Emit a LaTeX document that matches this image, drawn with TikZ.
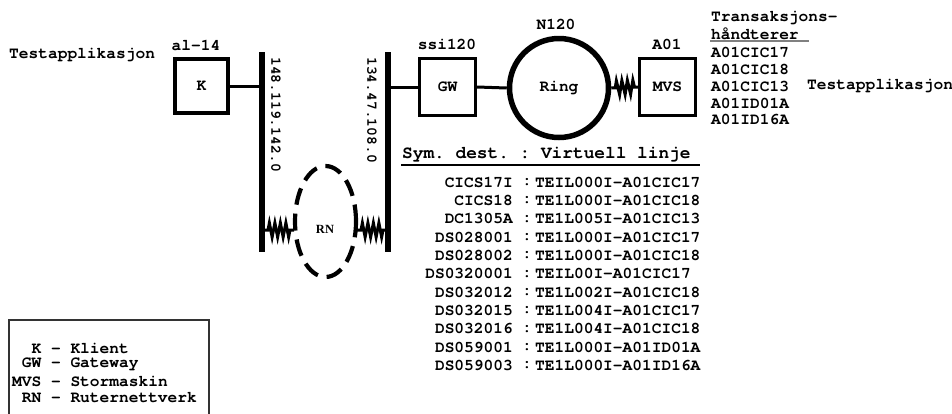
\documentclass[tikz,border=0pt]{standalone}
\usepackage{fontspec}
\setmonofont{texgyrecursor}[Extension=.otf, UprightFont=*-regular, BoldFont=*-bold]
\newfontfamily\rnserif{Liberation Serif}
\usetikzlibrary{decorations.pathmorphing,shapes.geometric}
\begin{document}
\begin{tikzpicture}[x=1pt,y=-1pt,
  txt/.style={font=\ttfamily\bfseries\fontsize{16.2}{18}\selectfont, inner sep=0pt},
  hdr/.style={font=\ttfamily\bfseries\fontsize{17.8}{19}\selectfont, inner sep=0pt},
  rot/.style={font=\ttfamily\bfseries\fontsize{14.7}{16}\selectfont, inner sep=0pt, rotate=-90, anchor=west},
  devbox/.style={draw, line width=3pt, minimum width=56pt, minimum height=57pt, inner sep=0pt, font=\ttfamily\bfseries\fontsize{16.2}{18}\selectfont},
  bus/.style={line width=6pt},
  link/.style={line width=3pt},
  spring/.style={line width=3pt, decorate, decoration={zigzag, segment length=5.5pt, amplitude=7pt, pre length=4pt, post length=3pt}}
]
\useasboundingbox (0,0) rectangle (952,413);

% left side
\node[txt, anchor=west] (tapp1) at (9,55) {Testapplikasjon};
\node[txt] (al14) at (196,45) {al-14};
\node[devbox, line width=3.6pt, minimum width=53pt, minimum height=54pt] (K) at (201.5,86) {K};

% buses
\coordinate (b1t) at (262,52);
\coordinate (b1b) at (262,252);
\coordinate (b2t) at (388,52);
\coordinate (b2b) at (388,252);
\draw[bus] (b1t) -- (b1b);
\draw[bus] (b2t) -- (b2b);
\node[rot] (ip1) at (276,57) {148.119.142.0};
\node[rot] (ip2) at (372,57) {134.47.108.0};
\draw[link] (K.east) -- (K.east -| b1t);

% router network
\node[draw, ellipse, line width=4.2pt, dash pattern=on 17pt off 9pt, minimum width=61pt, minimum height=111pt] (RN) at (325.5,221.5) {};
\node[font=\rnserif\bfseries\fontsize{12.5}{14}\selectfont, inner sep=0pt] (rnlab) at (325,229) {RN};
\coordinate (s1a) at (264,230);
\coordinate (s1b) at (294,230);
\coordinate (s2a) at (357,230);
\coordinate (s2b) at (386,230);
\draw[spring] (s1a) -- (s1b);
\draw[spring] (s2a) -- (s2b);

% gateway, ring, mainframe
\node[txt] (ssi) at (447,44) {ssi120};
\node[devbox] (GW) at (447.5,87) {GW};
\draw[link] (b2t |- GW.west) -- (GW.west);
\node[draw, circle, line width=5.5pt, minimum size=99pt, inner sep=0pt, font=\ttfamily\bfseries\fontsize{16.2}{18}\selectfont] (ring) at (559,88) {Ring};
\node[txt] (n120) at (556,24) {N120};
\draw[link] (GW.east) -- (ring.west);
\node[txt] (a01) at (667,44) {A01};
\node[devbox] (MVS) at (667.5,87) {MVS};
\draw[spring] (ring.east) -- (MVS.west);

% transaction handlers
\node[txt, anchor=west] (th1) at (711,18) {Transaksjons-};
\node[txt, anchor=west] (th2) at (711,34) {håndterer};
\draw[line width=1.4pt, gray] (710,41) -- (809,41);
\node[txt, anchor=west] (c17) at (711,52) {A01CIC17};
\node[txt, anchor=west] (c18) at (711,69) {A01CIC18};
\node[txt, anchor=west] (c13) at (711,86) {A01CIC13};
\node[txt, anchor=west] (i01) at (711,103) {A01ID01A};
\node[txt, anchor=west] (i16) at (711,119) {A01ID16A};
\node[txt, anchor=west] (tapp2) at (807,86) {Testapplikasjon};

% table
\node[hdr, anchor=west] (thead) at (402,155) {Sym. dest. : Virtuell linje};
\draw[line width=1.4pt] (401,165) -- (700,165);
\foreach \i/\l/\r in {0/CICS17I/TEIL000I-A01CIC17,
                      1/CICS18/TE1L000I-A01CIC18,
                      2/DC1305A/TE1L005I-A01CIC13,
                      3/DS028001/TE1L000I-A01CIC17,
                      4/DS028002/TE1L000I-A01CIC18,
                      5/DS0320001/TEIL00I-A01CIC17,
                      6/DS032012/TE1L002I-A01CIC18,
                      7/DS032015/TE1L004I-A01CIC17,
                      8/DS032016/TE1L004I-A01CIC18,
                      9/DS059001/TE1L000I-A01ID01A,
                      10/DS059003/TE1L000I-A01ID16A}{
  \node[txt, anchor=east] (tl\i) at (513,182+18.35*\i) {\l};
  \node[txt] (tc\i) at (527,182+18.35*\i) {:};
  \node[txt, anchor=west] (tr\i) at (535,182+18.35*\i) {\r};
}

% legend
\draw[line width=1.2pt, black!80] (9,414) -- (9,320) -- (209,320) -- (209,414);
\node[txt, anchor=west] (lg1) at (12,348) {\phantom{MV}K - Klient};
\node[txt, anchor=west] (lg2) at (12,364.5) {\phantom{M}GW - Gateway};
\node[txt, anchor=west] (lg3) at (12,381) {MVS - Stormaskin};
\node[txt, anchor=west] (lg4) at (12,397.5) {\phantom{M}RN - Ruternettverk};
\end{tikzpicture}
\end{document}
